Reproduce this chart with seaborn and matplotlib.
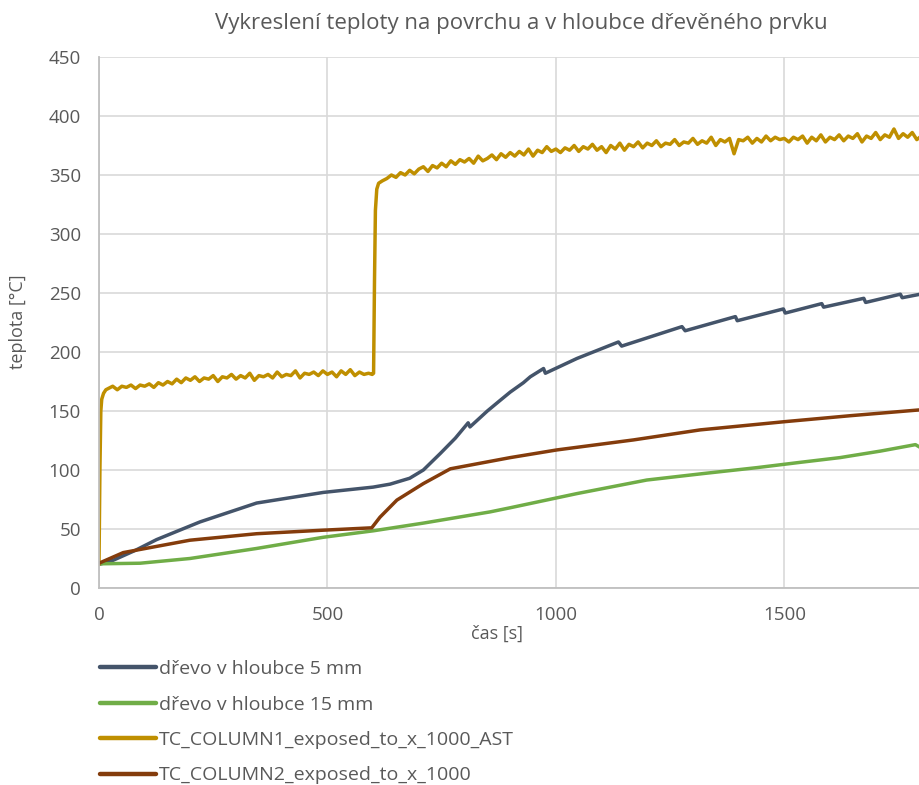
import numpy as np
import pandas as pd
import matplotlib
matplotlib.use("Agg")
import matplotlib.pyplot as plt
import seaborn as sns

# ---- data ----
labels = ["dřevo v hloubce 5 mm", "dřevo v hloubce 15 mm",
          "TC_COLUMN1_exposed_to_x_1000_AST", "TC_COLUMN2_exposed_to_x_1000"]
colors = ["#44546A", "#70AD47", "#BF8F00", "#843C0C"]

t_5mm = [0, 31, 80, 126, 221, 345, 491, 600, 637, 680, 710, 747, 780, 808, 812,
         850, 878, 900, 929, 944, 973, 977, 1046, 1137, 1144, 1276, 1283, 1393, 1397,
         1498, 1502, 1582, 1586, 1674, 1678, 1754, 1758, 1798]
T_5mm = [20, 23.5, 32, 41, 56, 72, 81, 85.5, 88, 93, 100, 114, 127, 140, 136.5,
         150, 159, 166, 174, 179, 186, 182, 194.5, 208.5, 205, 221.5, 218, 230, 226.5,
         236.5, 233, 241, 238, 245.5, 242, 249, 246, 249]

t_15mm = [0, 90, 199, 345, 491, 601, 710, 856, 900, 1046, 1199, 1323, 1440, 1535,
          1622, 1710, 1787, 1798]
T_15mm = [20.5, 21, 25, 33.5, 43, 48.5, 55, 64.5, 68, 80, 91.5, 97, 102, 106.5,
          110.5, 116, 121.5, 119]

t_col2 = [0, 53, 199, 345, 491, 597, 615, 652, 710, 769, 900, 1002, 1170, 1316,
          1502, 1644, 1798]
T_col2 = [21, 30, 40.5, 46, 49, 51, 60, 74.5, 88.5, 101, 110.5, 117, 125.5, 134,
          141, 146, 151]

t_col1 = [0, 2, 4, 6, 10, 15,
          20, 30, 40, 50, 60, 70, 80, 90, 100, 110, 120, 130, 140, 150, 160, 170, 180, 190,
          200, 210, 220, 230, 240, 250, 260, 270, 280, 290, 300, 310, 320, 330, 340, 350,
          360, 370, 380, 390, 400, 410, 420, 430, 440, 450, 460, 470, 480, 490, 500, 510,
          520, 530, 540, 550, 560, 570, 580, 590,
          598, 601, 603, 605, 608, 612, 620,
          630, 640, 650, 660, 670, 680, 690, 700, 710, 720, 730, 740, 750, 760, 770, 780,
          790, 800, 810, 820, 830, 840, 850, 860, 870, 880, 890, 900, 910, 920, 930, 940,
          950, 960, 970, 980, 990, 1000, 1010, 1020, 1030, 1040, 1050, 1060, 1070, 1080,
          1090, 1100, 1110, 1120, 1130, 1140, 1150, 1160, 1170, 1180, 1190, 1200, 1210,
          1220, 1230, 1240, 1250, 1260, 1270, 1280, 1290, 1300, 1310, 1320, 1330, 1340,
          1350, 1360, 1370, 1380, 1390, 1400, 1410, 1420, 1430, 1440, 1450, 1460, 1470,
          1480, 1490, 1500, 1510, 1520, 1530, 1540, 1550, 1560, 1570, 1580, 1590, 1600,
          1610, 1620, 1630, 1640, 1650, 1660, 1670, 1680, 1690, 1700, 1710, 1720, 1730,
          1740, 1750, 1760, 1770, 1780, 1790, 1800]
T_col1 = [20, 100, 150, 160, 165, 168,
          169, 171, 168, 171, 170, 172, 169, 172, 171, 173, 170, 174, 172, 175, 173, 177, 174, 178,
          176, 179, 175, 178, 177, 180, 175, 179, 178, 181, 177, 180, 178, 182, 176, 180,
          179, 181, 178, 183, 179, 181, 180, 184, 178, 182, 181, 183, 180, 184, 181, 183,
          179, 184, 181, 185, 180, 183, 181, 182,
          181, 182, 260, 320, 338, 343, 345,
          347, 350, 348, 352, 350, 354, 351, 355, 357, 353, 358, 356, 360, 357, 362, 359,
          363, 361, 364, 360, 366, 362, 364, 367, 363, 368, 365, 369, 366, 370, 367, 372,
          366, 371, 369, 374, 370, 372, 369, 373, 371, 375, 370, 374, 372, 376,
          371, 374, 369, 375, 372, 377, 371, 376, 374, 378, 373, 377, 375,
          379, 374, 377, 376, 380, 375, 378, 377, 381, 376, 379, 377, 382,
          375, 380, 378, 381, 368, 380, 379, 382, 377, 381, 378, 383, 379,
          382, 380, 381, 378, 382, 380, 383, 377, 382, 379, 384, 378, 382,
          380, 384, 379, 383, 381, 385, 378, 383, 381, 386, 380, 384, 382,
          389, 381, 385, 382, 386, 380, 383]

x_ticks = [0, 500, 1000, 1500]
y_ticks = [0, 50, 100, 150, 200, 250, 300, 350, 400, 450]

# ---- build long-form table ----
frames = []
for lab, tt, vv in zip(labels, [t_5mm, t_15mm, t_col1, t_col2],
                       [T_5mm, T_15mm, T_col1, T_col2]):
    frames.append(pd.DataFrame({"t": tt, "T": vv, "series": lab}))
df = pd.concat(frames, ignore_index=True)

sns.set_theme(style="white")
plt.rcParams["font.family"] = ["Open Sans", "DejaVu Sans"]
txt = "#595959"

fig = plt.figure(figsize=(9.2, 7.85), dpi=100)
left = 99 / 920
width = 1 - left + 0.05
ax = fig.add_axes([left, 1 - 588 / 785, width, (588 - 57) / 785])

sns.lineplot(data=df, x="t", y="T", hue="series", hue_order=labels,
             palette=dict(zip(labels, colors)), linewidth=2.5, ax=ax,
             legend=False, estimator=None, sort=False)

# 1797 s sits at the right image edge
ax.set_xlim(0, 1797 * width / (1 - left))
ax.set_ylim(0, 450)
ax.set_xticks(x_ticks)
ax.set_yticks(y_ticks)
ax.grid(True, color="#D9D9D9", linewidth=1.2)
ax.set_axisbelow(True)
for s in ["top", "right"]:
    ax.spines[s].set_visible(False)
for s in ["left", "bottom"]:
    ax.spines[s].set_color("#BFBFBF")
    ax.spines[s].set_linewidth(1.3)
ax.tick_params(axis="both", length=0, labelsize=13.5, colors=txt)
ax.tick_params(axis="x", pad=13)
ax.tick_params(axis="y", pad=13)
ax.set_xlabel("")
ax.set_ylabel("")

fig.text(521 / 920, 1 - 23 / 785, "Vykreslení teploty na povrchu a v hloubce dřevěného prvku",
         ha="center", va="center", fontsize=16, color=txt)
fig.text(497 / 920, 1 - 634 / 785, "čas [s]", ha="center", va="center",
         fontsize=13, color=txt)
fig.text(18 / 920, 1 - 322 / 785, "teplota [°C]", ha="center", va="center",
         rotation=90, fontsize=13, color=txt)

handles = [plt.Line2D([], [], color=c, linewidth=3.2) for c in colors]
fig.legend(handles, labels, loc="upper left", bbox_to_anchor=(100 / 920, 1 - 660 / 785),
           frameon=False, fontsize=14, labelcolor=txt, handlelength=2.9,
           handletextpad=0.15, labelspacing=0.9, borderpad=0, borderaxespad=0)

fig.savefig("out.png", dpi=100)
